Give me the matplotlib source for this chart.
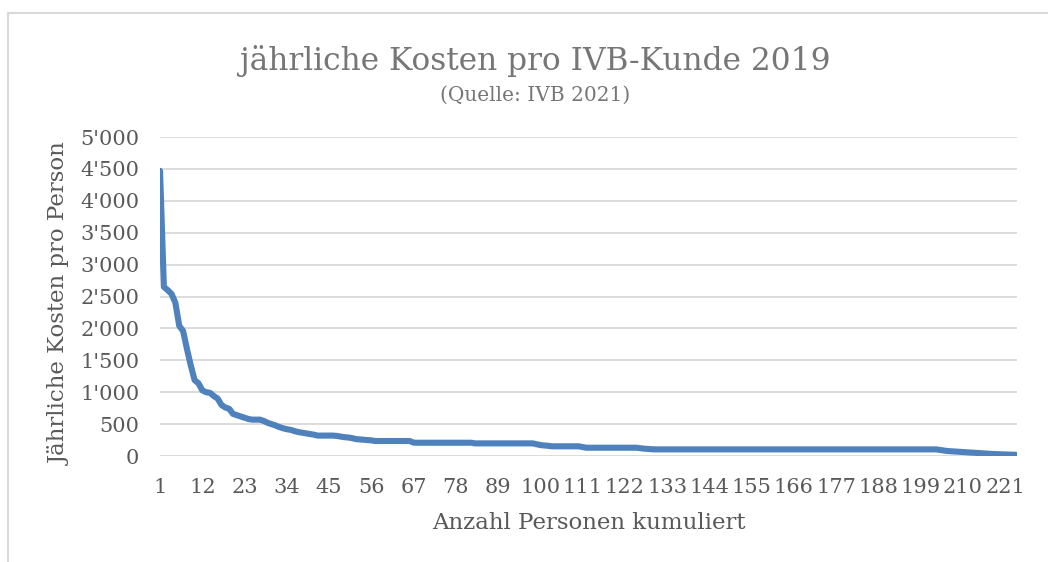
import matplotlib
matplotlib.use("Agg")
import matplotlib.pyplot as plt
from matplotlib.lines import Line2D
from matplotlib.ticker import FuncFormatter

# annual cost per IVB customer, sorted descending
costs = [
    4470, 2650, 2600, 2540, 2400, 2040, 1960, 1680, 1420, 1190,
    1140, 1030, 1000, 990, 940, 900, 800, 760, 740, 660,
    640, 620, 600, 580, 570, 570, 570, 550, 520, 500,
    480, 455, 435, 420, 410, 390, 375, 365, 355, 345,
    335, 320, 320, 320, 320, 320, 315, 305, 295, 290,
    280, 265, 260, 255, 250, 245, 235, 235, 235, 235,
    235, 235, 235, 235, 235, 235, 210, 208, 208, 208,
    208, 208, 208, 208, 208, 208, 208, 208, 208, 208,
    208, 208, 198, 198, 198, 198, 198, 198, 198, 198,
    198, 198, 198, 198, 198, 198, 198, 198, 185, 172,
    165, 160, 152, 152, 152, 152, 152, 152, 152, 152,
    140, 130, 130, 130, 130, 130, 130, 130, 130, 130,
    130, 130, 130, 130, 130, 122, 115, 110, 106, 104,
    104, 104, 104, 104, 104, 104, 104, 104, 104, 104,
    104, 104, 104, 104, 104, 104, 104, 104, 104, 104,
    104, 104, 104, 104, 104, 104, 104, 104, 104, 104,
    104, 104, 104, 104, 104, 104, 104, 104, 104, 104,
    104, 104, 104, 104, 104, 104, 104, 104, 104, 104,
    104, 104, 104, 104, 104, 104, 104, 104, 104, 104,
    104, 104, 104, 104, 104, 104, 104, 104, 104, 104,
    104, 104, 104, 95, 85, 78, 74, 70, 66, 62,
    58, 54, 50, 46, 42, 38, 34, 31, 29, 27,
    25, 23, 21, 18,
]
persons = list(range(1, len(costs) + 1))
x_ticks = persons[::11]
y_ticks = list(range(0, 5001, 500))

title = "jährliche Kosten pro IVB-Kunde 2019"
subtitle = "(Quelle: IVB 2021)"
x_label = "Anzahl Personen kumuliert"
y_label = "Jährliche Kosten pro Person"

plt.rcParams["font.family"] = ["DejaVu Serif"]
grey = "#595959"

fig = plt.figure(figsize=(10.48, 5.62), dpi=100)
ax = fig.add_axes([0.1527, 0.1886, 0.8174, 0.5676])

ax.plot(persons, costs, color="#4f81bd", lw=4.4,
        solid_capstyle="round", solid_joinstyle="round", zorder=3)

ax.set_xlim(1, len(costs))
ax.set_ylim(0, 5000)
ax.set_xticks(x_ticks)
ax.set_yticks(y_ticks)
ax.yaxis.set_major_formatter(FuncFormatter(lambda v, p: f"{int(v):,}".replace(",", "'")))
ax.grid(axis="y", color="#d9d9d9", lw=1.3, zorder=0)
ax.grid(axis="x", visible=False)
for s in ax.spines.values():
    s.set_visible(False)
ax.tick_params(axis="both", length=0, labelsize=15, labelcolor=grey)
ax.tick_params(axis="x", pad=16)
ax.tick_params(axis="y", pad=15)

fig.text(535 / 1048, 1 - 61 / 562, title, ha="center", va="center",
         fontsize=22.5, color="#767676")
fig.text(535 / 1048, 1 - 95 / 562, subtitle, ha="center", va="center",
         fontsize=14.5, color="#767676")
fig.text(589 / 1048, 1 - 523 / 562, x_label, ha="center", va="center",
         fontsize=16.5, color=grey)
fig.text(60 / 1048, 1 - 304 / 562, y_label, ha="center", va="center",
         rotation=90, fontsize=16.5, color=grey)

# chart area frame (only top and left edges are visible in the crop)
x0, y0 = 8 / 1048, 1 - 13 / 562
fig.add_artist(Line2D([x0, 1], [y0, y0], transform=fig.transFigure, color="#d9d9d9", lw=1.5))
fig.add_artist(Line2D([x0, x0], [0, y0], transform=fig.transFigure, color="#d9d9d9", lw=1.5))

fig.savefig("out.png", dpi=100)
